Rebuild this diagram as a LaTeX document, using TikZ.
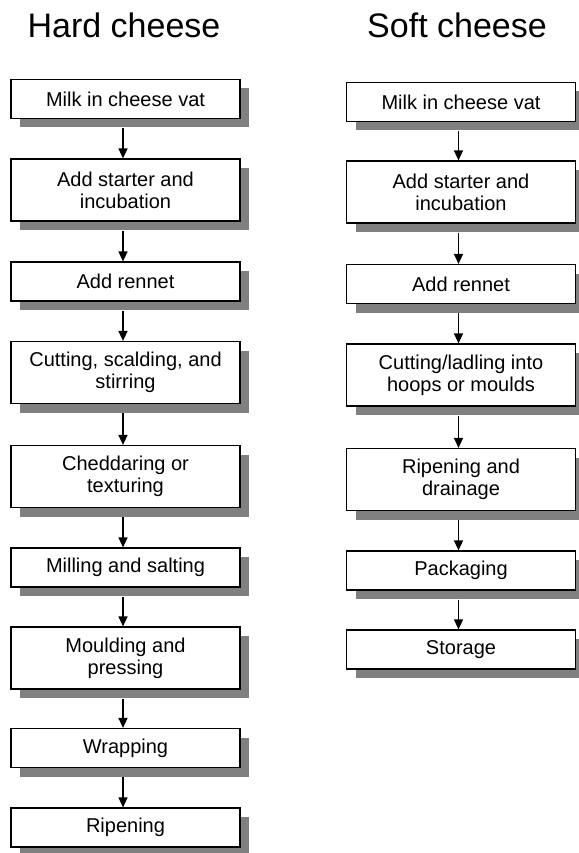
\documentclass[tikz,border=0pt]{standalone}
\usepackage{fontspec}
\setmainfont{Liberation Sans}
\usetikzlibrary{arrows.meta,shadows}
\definecolor{shadowgray}{RGB}{128,128,128}
\tikzset{
  stepbox/.style={draw=black, line width=1.2pt, fill=white, minimum width=229pt,
    inner sep=0pt, align=center, font=\fontsize{20}{22}\selectfont,
    general shadow={fill=shadowgray, shadow xshift=9pt, shadow yshift=-9pt}},
  one/.style={stepbox, minimum height=39pt},
  two/.style={stepbox, minimum height=62pt},
  title/.style={anchor=base, font=\fontsize{34}{36}\selectfont},
  flow/.style={line width=1.5pt, -{Triangle[width=9pt,length=10pt]}}
}
\begin{document}
\begin{tikzpicture}[x=1pt,y=-1pt]
\useasboundingbox (0,0) rectangle (578,853);
\node[title] (th) at (124,38) {Hard cheese};
\node[title] (ts) at (457,38) {Soft cheese};
% Hard cheese
\node[one] (l1) at (125.5,99) {Milk in cheese vat};
\node[two] (l2) at (125.5,190) {Add starter and\\incubation};
\node[one] (l3) at (125.5,281.5) {Add rennet};
\node[two] (l4) at (125.5,372.5) {Cutting, scalding, and\\stirring};
\node[two] (l5) at (125.5,476.5) {Cheddaring or\\texturing};
\node[one] (l6) at (125.5,567.5) {Milling and salting};
\node[two] (l7) at (125.5,658) {Moulding and\\pressing};
\node[one] (l8) at (125.5,748) {Wrapping};
\node[one] (l9) at (125.5,827.5) {Ripening};
% Soft cheese
\node[one] (r1) at (461,102) {Milk in cheese vat};
\node[two] (r2) at (461,192) {Add starter and\\incubation};
\node[one] (r3) at (461,284) {Add rennet};
\node[two] (r4) at (461,375) {Cutting/ladling into\\hoops or moulds};
\node[two] (r5) at (461,479.5) {Ripening and\\drainage};
\node[one] (r6) at (461,570.5) {Packaging};
\node[one] (r7) at (461,649.5) {Storage};
% arrows
\foreach \a/\b in {l1/l2,l2/l3,l3/l4,l4/l5,l5/l6,l6/l7,l7/l8,l8/l9,r1/r2,r2/r3,r3/r4,r4/r5,r5/r6,r6/r7}
  \draw[flow] ([xshift=-2.5pt,yshift=-9pt]\a.south) -- ([xshift=-2.5pt]\b.north);
\end{tikzpicture}
\end{document}
